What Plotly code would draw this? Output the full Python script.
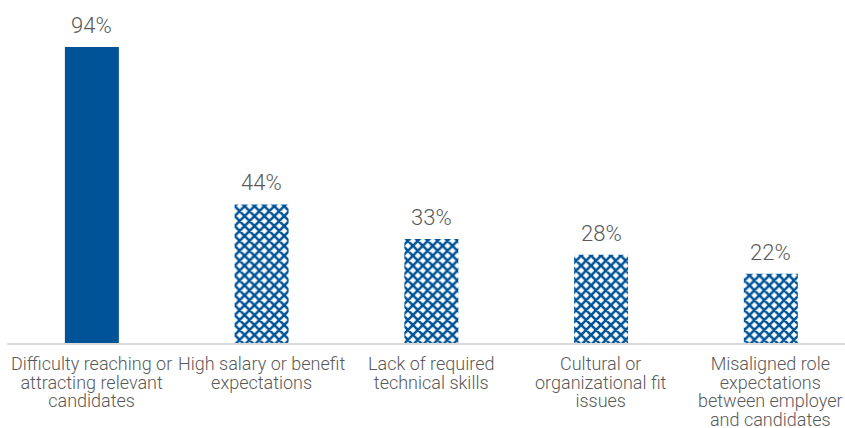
import plotly.graph_objects as go

# Survey results: top hiring challenges
categories = [
    "Difficulty reaching or<br>attracting relevant<br>candidates",
    "High salary or benefit<br>expectations",
    "Lack of required<br>technical skills",
    "Cultural or<br>organizational fit<br>issues",
    "Misaligned role<br>expectations<br>between employer<br>and candidates",
]
values = [94, 44, 33, 28, 22]
value_labels = ["94%", "44%", "33%", "28%", "22%"]

BLUE = "#005396"
GRAY_TEXT = "#595959"
FONT = "Roboto, 'Noto Sans', sans-serif"
LABEL_PX = 18      # glyph size of category labels
LEADING_BASE = 14.4  # base size that sets line spacing (1.3 x base)

x_pos = list(range(len(categories)))


def tight_lines(text):
    # keep big glyphs but a tighter line pitch by styling each line
    return "<br>".join(
        f"<span style='font-size:{LABEL_PX}px'>{ln}</span>" for ln in text.split("<br>")
    )


fig = go.Figure()

# First bar drawn solid, the rest with a crosshatch pattern
fig.add_trace(go.Bar(
    x=x_pos[:1], y=values[:1], width=0.318,
    marker=dict(color=BLUE, line=dict(width=0)),
    hoverinfo="skip",
))
fig.add_trace(go.Bar(
    x=x_pos[1:], y=values[1:], width=0.318,
    marker=dict(
        color="white",
        line=dict(width=0),
        pattern=dict(shape="x", fgcolor=BLUE, bgcolor="white", fgopacity=1,
                     fillmode="replace", size=7, solidity=0.6),
    ),
    hoverinfo="skip",
))

# Value labels above bars
for xi, v, lab in zip(x_pos, values, value_labels):
    fig.add_annotation(
        x=xi, y=v, text=lab, showarrow=False,
        xanchor="center", yanchor="bottom", yshift=7,
        font=dict(family=FONT, size=22, color=GRAY_TEXT, weight=300),
    )

# Category labels under the axis
for xi, cat in zip(x_pos, categories):
    fig.add_annotation(
        x=xi, xref="x", y=0, yref="y", text=tight_lines(cat), showarrow=False,
        xanchor="center", yanchor="top", yshift=-8,
        font=dict(family=FONT, size=LEADING_BASE, color=GRAY_TEXT, weight=300),
    )

fig.update_layout(
    width=845, height=428,
    margin=dict(l=7, r=0, t=28, b=85),
    paper_bgcolor="white", plot_bgcolor="white",
    showlegend=False,
    barmode="overlay",
)
fig.update_xaxes(
    range=[-0.5, 4.437],
    tickvals=x_pos, showticklabels=False,
    showgrid=False, zeroline=False,
    showline=True, linecolor="#d9d9d9", linewidth=2,
    ticks="", fixedrange=True,
)
fig.update_yaxes(
    range=[0, 100], visible=False, showgrid=False, zeroline=False,
    fixedrange=True,
)

fig.write_html("out.html")
